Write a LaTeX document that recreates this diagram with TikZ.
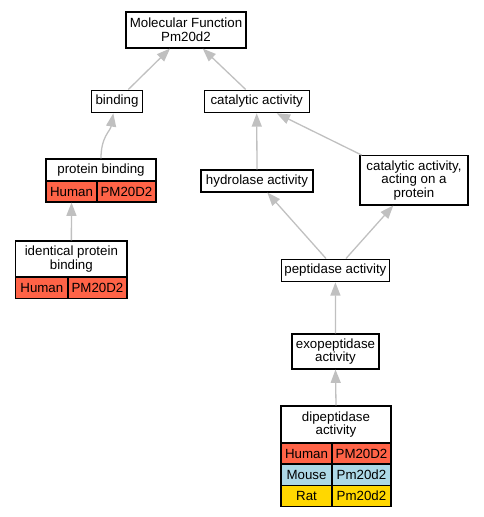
\documentclass[tikz,border=0pt]{standalone}
\usepackage{fontspec}
\setmainfont{Liberation Sans}
\usetikzlibrary{arrows.meta}
\definecolor{gcol}{RGB}{192,192,192}
\definecolor{human}{RGB}{255,99,71}
\definecolor{mouse}{RGB}{173,216,230}
\definecolor{rat}{RGB}{255,215,0}
\newcommand{\nfont}{\fontsize{13.3pt}{13.6pt}\selectfont}
\tikzset{
  gbox/.style={draw=black, line width=1.1pt, fill=white, inner sep=0pt, align=center, font=\nfont},
  cell/.style={gbox, fill=#1},
  edge/.style={draw=gcol, line width=1.3pt, -{Triangle[length=13.3pt,width=10pt]}}
}
\begin{document}
\begin{tikzpicture}[x=1pt,y=-1pt]
\useasboundingbox (0,0) rectangle (483,517);
% plain nodes
\node[gbox, minimum width=120pt, minimum height=36pt] (mf) at (186,30) {Molecular Function\\Pm20d2};
\node[gbox, minimum width=50.6pt, minimum height=22.7pt] (binding) at (117,101.4) {binding};
\node[gbox, minimum width=105.3pt, minimum height=22.7pt] (cat) at (256.7,101.4) {catalytic activity};
\node[gbox, minimum width=112pt, minimum height=22pt] (hyd) at (257,181) {hydrolase activity};
\node[gbox, minimum width=108pt, minimum height=49.3pt] (catp) at (414,180.3) {catalytic activity,\\acting on a\\protein};
\node[gbox, minimum width=107.3pt, minimum height=22.7pt] (pep) at (335.4,270.4) {peptidase activity};
\node[gbox, minimum width=87pt, minimum height=35pt] (exo) at (335.5,351.5) {exopeptidase\\activity};
% protein binding
\node[gbox, minimum width=110pt, minimum height=22pt] (pb) at (101,170) {protein binding};
\node[cell=human, minimum width=51pt, minimum height=21pt] (pbh) at (71.5,191.5) {Human};
\node[cell=human, minimum width=59pt, minimum height=21pt] (pbg) at (126.5,191.5) {PM20D2};
% identical protein binding
\node[gbox, minimum width=111.3pt, minimum height=36pt] (ipb) at (71.35,259) {identical protein\\binding};
\node[cell=human, minimum width=52.3pt, minimum height=21.3pt] (ipbh) at (41.85,287.6) {Human};
\node[cell=human, minimum width=59pt, minimum height=21.3pt] (ipbg) at (97.5,287.6) {PM20D2};
% dipeptidase activity
\node[gbox, minimum width=110pt, minimum height=37pt] (dip) at (336,424.5) {dipeptidase\\activity};
\node[cell=human, minimum width=51pt, minimum height=21pt] (diph) at (306.5,453.5) {Human};
\node[cell=human, minimum width=59pt, minimum height=21pt] (diphg) at (361.5,453.5) {PM20D2};
\node[cell=mouse, minimum width=51pt, minimum height=21.3pt] (dipm) at (306.5,474.65) {Mouse};
\node[cell=mouse, minimum width=59pt, minimum height=21.3pt] (dipmg) at (361.5,474.65) {Pm20d2};
\node[cell=rat, minimum width=51pt, minimum height=21.4pt] (dipr) at (306.5,496) {Rat};
\node[cell=rat, minimum width=59pt, minimum height=21.4pt] (diprg) at (361.5,496) {Pm20d2};
% edges
\draw[edge] ([xshift=11.3pt]binding.north) -- ([xshift=-16pt]mf.south);
\draw[edge] ([xshift=-11pt]cat.north) -- ([xshift=16.7pt]mf.south);
\draw[edge] (pb.north) .. controls +(0,-22) and +(-3,18) .. ([xshift=-3.7pt]binding.south);
\draw[edge] (ipb.north) -- (pbh.south);
\draw[edge] (hyd.north) -- (cat.south);
\draw[edge] ([xshift=-52.3pt]catp.north) -- ([xshift=20pt]cat.south);
\draw[edge] ([xshift=-9.4pt]pep.north) -- ([xshift=10.3pt]hyd.south);
\draw[edge] ([xshift=10.6pt]pep.north) -- ([xshift=-20.7pt]catp.south);
\draw[edge] (exo.north) -- (pep.south);
\draw[edge] (dip.north) -- (exo.south);
\end{tikzpicture}
\end{document}
